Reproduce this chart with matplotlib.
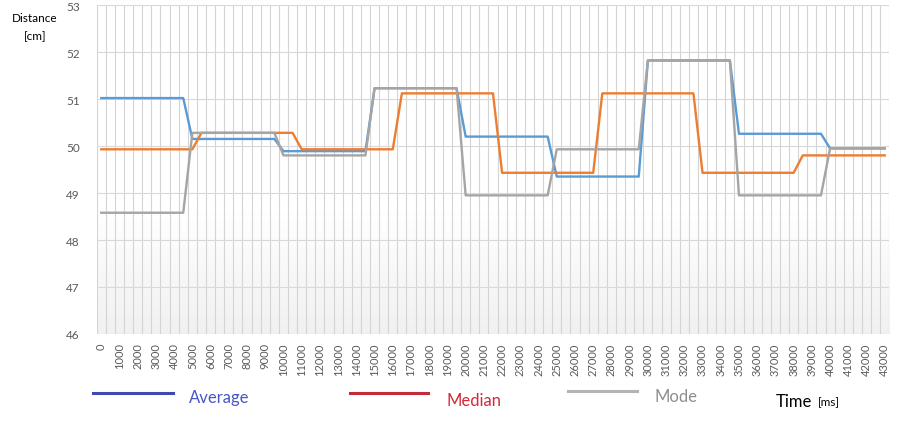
import numpy as np
import matplotlib.pyplot as plt
from matplotlib.lines import Line2D
from matplotlib.colors import LinearSegmentedColormap

# time axis: one sample every 500 ms
time_ms = list(range(0, 43001, 500))

average = [51.02, 51.02, 51.02, 51.02, 51.02, 51.02, 51.02, 51.02, 51.02, 51.02,
           50.15, 50.15, 50.15, 50.15, 50.15, 50.15, 50.15, 50.15, 50.15, 50.15,
           49.89, 49.89, 49.89, 49.89, 49.89, 49.89, 49.89, 49.89, 49.89, 49.89,
           51.23, 51.23, 51.23, 51.23, 51.23, 51.23, 51.23, 51.23, 51.23, 51.23,
           50.20, 50.20, 50.20, 50.20, 50.20, 50.20, 50.20, 50.20, 50.20, 50.20,
           49.35, 49.35, 49.35, 49.35, 49.35, 49.35, 49.35, 49.35, 49.35, 49.35,
           51.82, 51.82, 51.82, 51.82, 51.82, 51.82, 51.82, 51.82, 51.82, 51.82,
           50.26, 50.26, 50.26, 50.26, 50.26, 50.26, 50.26, 50.26, 50.26, 50.26,
           49.95, 49.95, 49.95, 49.95, 49.95, 49.95, 49.95]

median = [49.93, 49.93, 49.93, 49.93, 49.93, 49.93, 49.93, 49.93, 49.93, 49.93, 49.93,
          50.28, 50.28, 50.28, 50.28, 50.28, 50.28, 50.28, 50.28, 50.28, 50.28, 50.28,
          49.93, 49.93, 49.93, 49.93, 49.93, 49.93, 49.93, 49.93, 49.93, 49.93, 49.93,
          51.12, 51.12, 51.12, 51.12, 51.12, 51.12, 51.12, 51.12, 51.12, 51.12, 51.12,
          49.43, 49.43, 49.43, 49.43, 49.43, 49.43, 49.43, 49.43, 49.43, 49.43, 49.43,
          51.12, 51.12, 51.12, 51.12, 51.12, 51.12, 51.12, 51.12, 51.12, 51.12, 51.12,
          49.43, 49.43, 49.43, 49.43, 49.43, 49.43, 49.43, 49.43, 49.43, 49.43, 49.43,
          49.80, 49.80, 49.80, 49.80, 49.80, 49.80, 49.80, 49.80, 49.80, 49.80]

mode = [48.58, 48.58, 48.58, 48.58, 48.58, 48.58, 48.58, 48.58, 48.58, 48.58,
        50.28, 50.28, 50.28, 50.28, 50.28, 50.28, 50.28, 50.28, 50.28, 50.28,
        49.80, 49.80, 49.80, 49.80, 49.80, 49.80, 49.80, 49.80, 49.80, 49.80,
        51.23, 51.23, 51.23, 51.23, 51.23, 51.23, 51.23, 51.23, 51.23, 51.23,
        48.95, 48.95, 48.95, 48.95, 48.95, 48.95, 48.95, 48.95, 48.95, 48.95,
        49.93, 49.93, 49.93, 49.93, 49.93, 49.93, 49.93, 49.93, 49.93, 49.93,
        51.82, 51.82, 51.82, 51.82, 51.82, 51.82, 51.82, 51.82, 51.82, 51.82,
        48.95, 48.95, 48.95, 48.95, 48.95, 48.95, 48.95, 48.95, 48.95, 48.95,
        49.95, 49.95, 49.95, 49.95, 49.95, 49.95, 49.95]

xtick_values = list(range(0, 43001, 1000))
ytick_values = [46, 47, 48, 49, 50, 51, 52, 53]

plt.rcParams['font.family'] = ['Lato', 'DejaVu Sans']

fig = plt.figure(figsize=(8.99, 4.31), dpi=100)
ax = fig.add_axes([96.7 / 899, 96 / 431, 792.6 / 899, 329 / 431])

# light gradient in the lower part of the plot area
grad = np.linspace(0, 1, 100).reshape(-1, 1)
cmap = LinearSegmentedColormap.from_list('g', ['#ffffff', '#f1f1f1'])
ax.imshow(grad, extent=[-250, 43250, 46, 48.6], aspect='auto', origin='upper',
          cmap=cmap, zorder=0)

ax.plot(time_ms, average, color='#5B9BD5', lw=1.7, zorder=3)
ax.plot(time_ms, median, color='#ED7D31', lw=1.7, zorder=4)
ax.plot(time_ms, mode, color='#A5A5A5', lw=1.7, zorder=5)

ax.set_xlim(-250, 43250)
ax.set_ylim(46, 53)
ax.set_xticks(xtick_values)
ax.set_xticklabels([str(v) for v in xtick_values], rotation=90, fontsize=8, color='#595959')
ax.set_xticks(np.arange(-250, 43251, 500), minor=True)
ax.set_yticks(ytick_values)
ax.set_yticklabels([str(v) for v in ytick_values], fontsize=8.5, color='#595959')
ax.tick_params(axis='both', which='both', length=0)
ax.tick_params(axis='x', pad=6)
ax.tick_params(axis='y', pad=12)
ax.grid(axis='y', which='major', color='#d9d9d9', lw=0.8, zorder=1)
ax.grid(axis='x', which='minor', color='#d4d4d4', lw=0.8, zorder=1)
ax.grid(axis='x', which='major', visible=False)
for s in ax.spines.values():
    s.set_visible(False)
ax.set_axisbelow(True)

# axis captions
fig.text(35 / 899, 1 - 18 / 431, 'Distance', fontsize=8.5, ha='center', va='center')
fig.text(35 / 899, 1 - 37 / 431, '[cm]', fontsize=8.5, ha='center', va='center')

# hand-drawn style legend at the bottom
def legend_item(x0, x1, y_line, color_line, label, x_text, y_text, color_text):
    fig.add_artist(Line2D([x0 / 899, x1 / 899], [1 - y_line / 431, 1 - y_line / 431],
                          color=color_line, lw=2.2))
    fig.text(x_text / 899, 1 - y_text / 431, label, fontsize=12, color=color_text,
             ha='left', va='center')

legend_item(93, 173, 394, '#3F4AAE', 'Average', 189, 398, '#4A56C4')
legend_item(350, 428, 394, '#C62A3A', 'Median', 446, 401, '#D02A3C')
legend_item(568, 637, 392, '#B4B4B4', 'Mode', 654, 397, '#8E8E8E')
fig.text(776 / 899, 1 - 402 / 431, 'Time', fontsize=12, color='black', ha='left', va='center')
fig.text(818 / 899, 1 - 403 / 431, '[ms]', fontsize=8.5, color='black', ha='left', va='center')

fig.savefig('out.png', dpi=100)
